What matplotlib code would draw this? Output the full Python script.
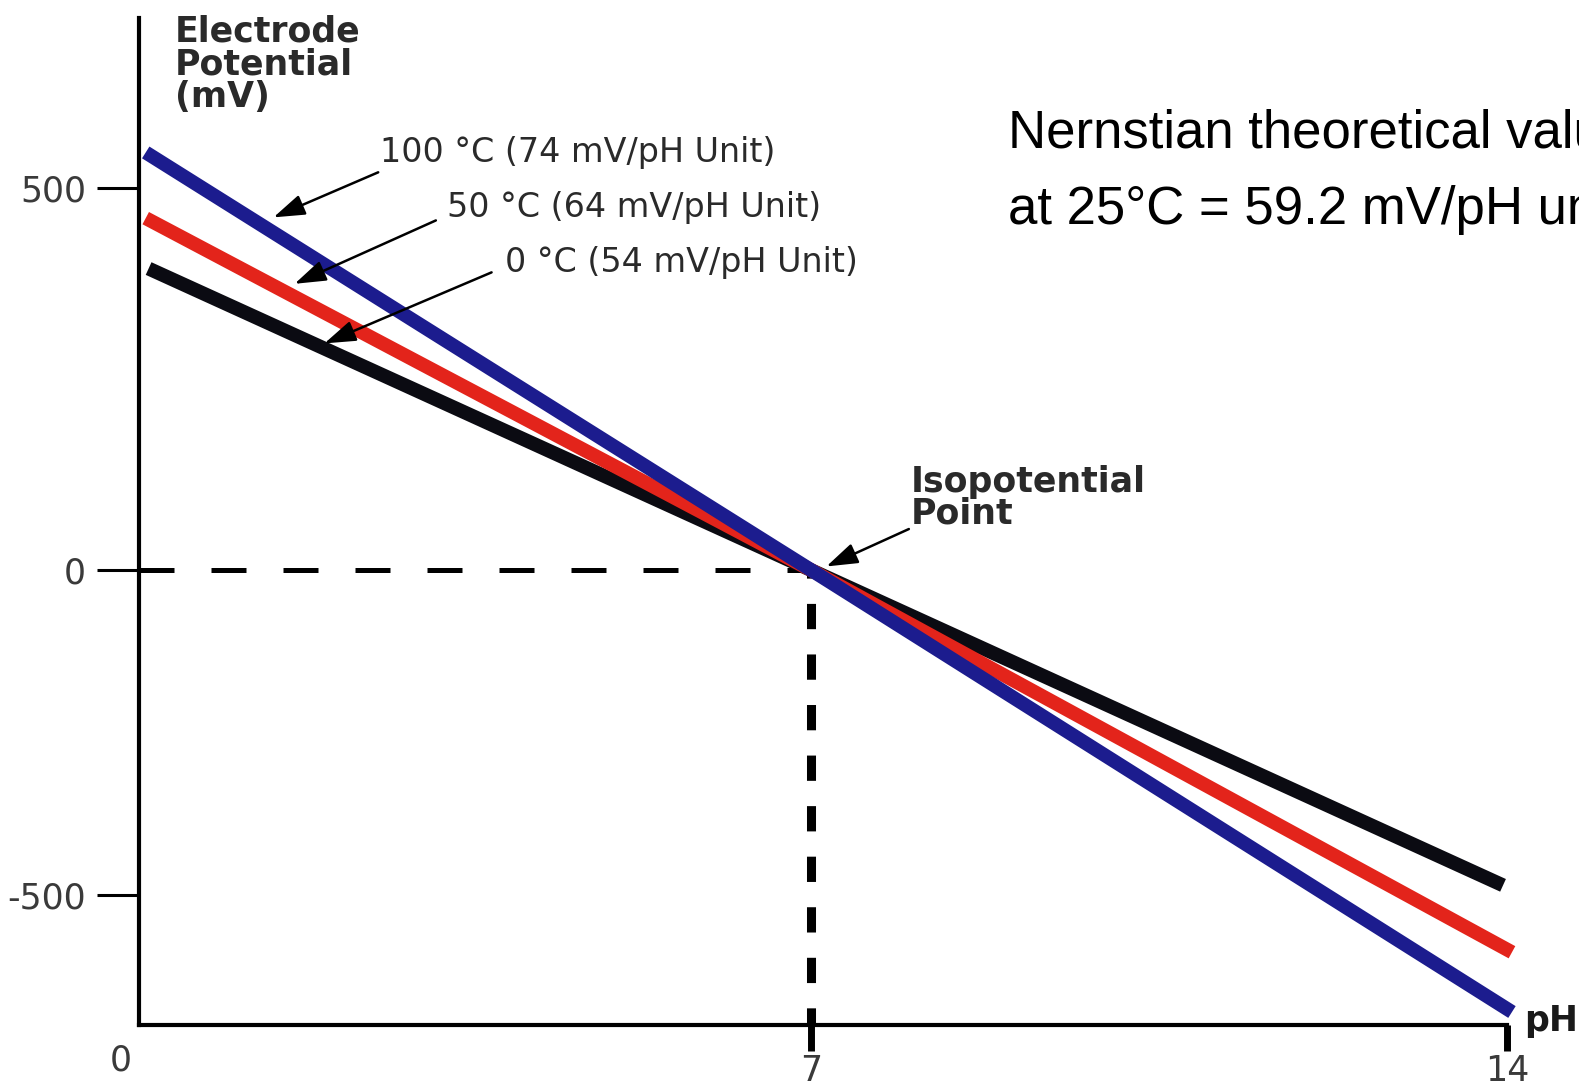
import numpy as np
import matplotlib.pyplot as plt

plt.rcParams['font.family'] = ['DejaVu Sans']

# values (pH, mV)
ph_100 = [0.07, 7.0, 14.05]
mv_100 = [547, 0, -680]
ph_50 = [0.07, 7.0, 14.05]
mv_50 = [461, 0, -588]
ph_0 = [0.10, 7.0, 13.96]
mv_0 = [395, 0, -485]

labels = ['100 °C (74 mV/pH Unit)', '50 °C (64 mV/pH Unit)', '0 °C (54 mV/pH Unit)']
colors = ['#1c1c8e', '#e3241b', '#0b0b12']

y_ticks = [500, 0, -500]
x_ticks = [7, 14]


# the printed axes are not evenly spaced on both sides of the isopotential point
def yf(y):
    y = np.asarray(y, dtype=float)
    return np.where(y >= 0, y * 381 / 500, y * 324 / 500)


def yi(p):
    p = np.asarray(p, dtype=float)
    return np.where(p >= 0, p * 500 / 381, p * 500 / 324)


def xf(x):
    x = np.asarray(x, dtype=float)
    return np.where(x < 7, x * 672 / 7, 672 + (x - 7) * 695 / 7)


def xi(p):
    p = np.asarray(p, dtype=float)
    return np.where(p < 672, p * 7 / 672, 7 + (p - 672) * 7 / 695)


fig = plt.figure(figsize=(15.79, 10.86), dpi=100)
ax = fig.add_axes([139 / 1579, 61 / 1086, 1368 / 1579, 1007 / 1086])
ax.set_xscale('function', functions=(xf, xi))
ax.set_yscale('function', functions=(yf, yi))
ax.set_xlim(0, 14)
ax.set_ylim(-700, 723)

for s in ['top', 'right']:
    ax.spines[s].set_visible(False)
for s in ['left', 'bottom']:
    ax.spines[s].set_linewidth(3)

# dashed guides to the isopotential point
ax.plot([0, 7], [0, 0], color='black', lw=3.6, linestyle=(0, (7, 7.4)), clip_on=False)
ax.plot([7, 7], [0, -700], color='black', lw=6.5, linestyle=(1.9, (2.8, 2.8)), clip_on=False)

for xs, ys, c, w in [(ph_0, mv_0, colors[2], 10),
                     (ph_50, mv_50, colors[1], 10),
                     (ph_100, mv_100, colors[0], 10)]:
    ax.plot(xs, ys, color=c, lw=w, solid_capstyle='butt', clip_on=False)

ax.set_yticks(y_ticks)
ax.set_yticklabels([str(v) for v in y_ticks])
ax.tick_params(axis='y', direction='out', length=30, width=2.2, pad=8,
               labelsize=25, labelcolor='#3a3a3a')
ax.set_xticks(x_ticks)
ax.set_xticklabels([str(v) for v in x_ticks])
ax.tick_params(axis='x', direction='out', length=19, width=5, pad=2,
               labelsize=25, labelcolor='#3a3a3a')
ax.minorticks_off()

ax.annotate('0', xy=(0, -700), xytext=(-13, -13), textcoords='offset points',
            ha='center', va='top', fontsize=25, color='#3a3a3a', annotation_clip=False)
ax.annotate('pH', xy=(14, -700), xytext=(12, 3), textcoords='offset points',
            ha='left', va='center', fontsize=25, fontweight='bold', color='#1a1a1a',
            annotation_clip=False)

fig.text(175 / 1579, 1 - 14 / 1086, 'Electrode\nPotential\n(mV)', ha='left', va='top',
         fontsize=25, fontweight='bold', color='#2a2a2a', linespacing=0.97)

arrow = dict(arrowstyle='-|>,head_length=0.6,head_width=0.2', color='black', lw=1.8,
             mutation_scale=32, shrinkA=0, shrinkB=0)

# label text position, arrow tail, arrow head (data units)
label_pos = [(2.51, 547), (3.21, 475), (3.81, 403)]
tails = [(2.49, 521), (3.09, 458), (3.67, 390)]
heads = [(1.40, 462), (1.62, 375), (1.93, 297)]
for lab, pos, t, h in zip(labels, label_pos, tails, heads):
    ax.text(pos[0], pos[1], lab, ha='left', va='center', fontsize=24, color='#2a2a2a')
    ax.annotate('', xy=h, xytext=t, arrowprops=arrow)

ax.text(8.0, 95, 'Isopotential\nPoint', ha='left', va='center', fontsize=25,
        fontweight='bold', color='#2a2a2a', linespacing=0.93)
ax.annotate('', xy=(7.15, 5), xytext=(7.98, 54), arrowprops=arrow)

fig.text(1008 / 1579, 1 - 134 / 1086, 'Nernstian theoretical value', ha='left', va='center',
         fontsize=38, family='Liberation Sans', color='black')
fig.text(1008 / 1579, 1 - 210 / 1086, 'at 25°C = 59.2 mV/pH unit', ha='left', va='center',
         fontsize=38, family='Liberation Sans', color='black')

fig.savefig('out.png', dpi=100)
